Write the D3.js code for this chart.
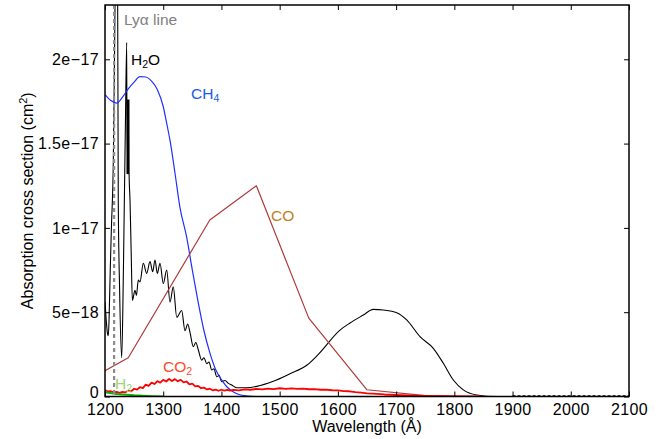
<!DOCTYPE html>
<html><head><meta charset="utf-8">
<script src="https://cdn.jsdelivr.net/npm/d3@7"></script>
<style>
html,body{margin:0;padding:0;background:#fff;}
text{font-family:"Liberation Sans",Arial,Helvetica,sans-serif;}
</style></head>
<body>
<svg id="chart" width="666" height="439"></svg>
<script>
// ---- data (values in units of 1e-18 cm^2) ----
const xTicks = [1200,1300,1400,1500,1600,1700,1800,1900,2000,2100];
const yTicks = [0,5e-18,1e-17,1.5e-17,2e-17];
const yTickLabels = ["0","5e\u221218","1e\u221217","1.5e\u221217","2e\u221217"];
const lyaWavelength = 1215.67;

const h2oWl = [1200,1202,1204,1205.7,1207,1209,1211,1214.3,1216,1218,1219.5,1221.5,1222.8,1225,1228.7,1231,1233,1235,1237.3,1237.8,1238.1,1238.4,1238.7,1239.0,1239.3,1239.6,1239.9,1240.2,1240.5,1240.8,1241.1,1241.4,1243,1245,1247,1251.5,1254,1257.2,1260.1,1265.8,1271.6,1277.3,1281.9,1285.9,1289.8,1294.5,1300.1,1306,1311.6,1317.3,1323.2,1331.7,1337.4,1342,1346,1351.7,1356,1360.3,1366.1,1370,1374.7,1378.6,1383.3,1387,1391.9,1396,1400.4,1406,1412,1417.6,1426,1443,1460.6,1489,1517.8,1546.5,1566.4,1603.6,1620.8,1643.7,1660.8,1678,1701,1718.2,1741,1763.9,1781.1,1798.3,1815.4,1838.4,1872.8,1900];
const h2oVal = [5.6,4.6,3.8,3.6,4.6,7.5,10,14,19,26,30,26,11.6,6.5,2.3,6,11,16,21,13.2,17.6,13.2,17.6,13.2,17.6,13.2,17.6,13.2,17.6,13.2,17.6,13.2,11.6,8.5,5.7,6.3,6.0,6.9,6.8,7.9,7.3,8.0,7.4,8.1,7.3,7.9,6.7,7.5,5.6,6.5,4.7,5.1,3.9,4.3,3.8,2.95,3.2,2.76,2.16,2.3,1.95,2.05,1.57,1.65,1.17,1.25,0.88,0.95,0.78,0.68,0.52,0.52,0.6,0.9,1.35,1.85,2.5,3.94,4.36,4.83,5.17,5.13,4.97,4.54,3.55,2.86,1.97,0.98,0.39,0.09,0,0];

const ch4Wl = [1200,1210,1220,1230,1240,1250,1260,1270,1280,1290,1300,1306,1311.6,1320,1328.8,1340,1350,1360,1370,1380,1390,1400,1410,1420,1430,1445,1460,1720];
const ch4Val = [17.9,17.55,17.4,17.75,18.25,18.65,18.97,18.95,18.7,18.2,17.2,16.2,15.2,13.3,11.2,9.5,7.5,5.6,3.9,2.6,1.6,1.0,0.55,0.28,0.12,0.03,0,0];

const coWl = [1200,1240,1380,1460,1550,1650,1750,1850,1900];
const coVal = [1.53,2.3,10.47,12.5,4.65,0.4,0.05,0,0];

const co2Wl = [1200,1205,1210,1215,1220,1225,1230,1235,1240,1245,1250,1255,1260,1265,1270,1275,1280,1285,1290,1295,1300,1305,1310,1315,1320,1325,1330,1335,1340,1345,1350,1355,1360,1365,1370,1375,1380,1385,1390,1395,1400,1405,1410,1415,1420,1430,1440,1450,1460,1470,1480,1490,1500,1510,1520,1530,1540,1550,1560,1570,1580,1590,1600,1610,1620,1630,1640,1650,1660,1680,1700,1720,1750,1780,1800,1850];
const co2Val = [0.38,0.30,0.31,0.24,0.27,0.21,0.27,0.25,0.34,0.31,0.46,0.41,0.55,0.50,0.70,0.63,0.82,0.74,0.91,0.82,0.99,0.89,1.04,0.92,1.03,0.90,0.99,0.84,0.89,0.72,0.76,0.60,0.63,0.49,0.53,0.42,0.46,0.37,0.41,0.34,0.40,0.35,0.39,0.35,0.39,0.36,0.42,0.40,0.45,0.42,0.47,0.44,0.49,0.45,0.48,0.45,0.47,0.43,0.44,0.40,0.41,0.37,0.36,0.32,0.31,0.26,0.23,0.19,0.17,0.12,0.09,0.07,0.04,0.02,0.01,0];

const h2Wl = [1200,1220,1250,1280,1300];
const h2Val = [0.25,0.15,0.07,0.02,0];

const zeroTailWl = [1900,2100];
const zeroTailVal = [0,0];

// ---- layout ----
const svg = d3.select("#chart");
const L = 105, R = 629, T = 5, B = 396.5;
const x = d3.scaleLinear().domain([1200,2100]).range([L,R]);
const y = d3.scaleLinear().domain([0,23.22e-18]).range([B,T]);
const FS = 16;

svg.append("defs").append("clipPath").attr("id","clip")
  .append("rect").attr("x",L).attr("y",T).attr("width",R-L).attr("height",B-T);

const plot = svg.append("g").attr("clip-path","url(#clip)");
function series(wl, val, color, w, curve, dash){
  const line = d3.line().x(d=>x(d[0])).y(d=>y(d[1]*1e-18)).curve(curve||d3.curveLinear);
  const p = plot.append("path").datum(wl.map((v,i)=>[v,val[i]]))
    .attr("d",line).attr("fill","none").attr("stroke",color)
    .attr("stroke-width",w).attr("stroke-linejoin","round");
  if(dash) p.attr("stroke-dasharray",dash);
}
series(h2oWl,h2oVal,"#000",1.1,d3.curveMonotoneX);
series(ch4Wl,ch4Val,"#1f2fff",1.2,d3.curveMonotoneX);
series(coWl,coVal,"#b03a3a",1.2);
series(co2Wl,co2Val,"#ff0000",1.8);
series(h2Wl,h2Val,"#00b400",2);
series(zeroTailWl,zeroTailVal,"#000",2.5,null,"3,2");

// Lyman alpha line
plot.append("line").attr("x1",x(lyaWavelength)).attr("x2",x(lyaWavelength))
  .attr("y1",T).attr("y2",B).attr("stroke","#8c8c8c").attr("stroke-width",2.2)
  .attr("stroke-dasharray","4,3");

// ---- axes ----
const ax = svg.append("g");
const gB = ax.append("g").attr("transform",`translate(0,${B})`)
  .call(d3.axisBottom(x).tickValues(xTicks).tickFormat(d3.format("d")).tickSize(-5).tickPadding(7));
const gT = ax.append("g").attr("transform",`translate(0,${T})`)
  .call(d3.axisTop(x).tickValues(xTicks).tickFormat("").tickSize(-5));
const gL = ax.append("g").attr("transform",`translate(${L},0)`)
  .call(d3.axisLeft(y).tickValues(yTicks).tickFormat((d,i)=>yTickLabels[i]).tickSize(-5).tickPadding(6));
const gR = ax.append("g").attr("transform",`translate(${R},0)`)
  .call(d3.axisRight(y).tickValues(yTicks).tickFormat("").tickSize(-5));
[gB,gT,gL,gR].forEach(g=>{
  g.select(".domain").remove();
  g.selectAll(".tick line").attr("stroke","#000").attr("stroke-width",1);
  g.selectAll("text").attr("font-size",FS).attr("fill","#000").attr("letter-spacing","0.4px")
    .attr("font-family","Liberation Sans, Arial, sans-serif");
});
gL.selectAll(".tick text").filter((d)=>d===0).attr("dy","0.05em");
svg.append("rect").attr("x",L).attr("y",T).attr("width",R-L).attr("height",B-T)
  .attr("fill","none").attr("stroke","#000").attr("stroke-width",1.5);

// axis titles
svg.append("text").attr("x",(L+R)/2).attr("y",432).attr("text-anchor","middle")
  .attr("font-size",FS).text("Wavelength (\u00c5)");
const yt = svg.append("text").attr("transform",`translate(33,${(T+B)/2}) rotate(-90)`)
  .attr("text-anchor","middle").attr("font-size",FS);
yt.append("tspan").text("Absorption cross section (cm");
yt.append("tspan").attr("dy",-6).attr("font-size",11).text("2");
yt.append("tspan").attr("dy",6).text(")");

// ---- series labels ----
function label(px,py,color,main,sub,after){
  const t = svg.append("text").attr("x",px).attr("y",py).attr("fill",color).attr("font-size",15.5);
  t.append("tspan").text(main);
  if(sub){
    t.append("tspan").attr("dy",3).attr("font-size",10.5).text(sub);
    if(after) t.append("tspan").attr("dy",-3).text(after);
  }
  return t;
}
label(124,25,"#808080","Ly\u03b1 line");
label(131,65,"#000","H","2","O");
label(191,99,"#1a5ce6","CH","4");
label(271,221,"#c07f1e","CO");
label(163,372,"#ff4a2a","CO","2");
label(115,389,"#9ad673","H","2");
</script>
</body></html>
